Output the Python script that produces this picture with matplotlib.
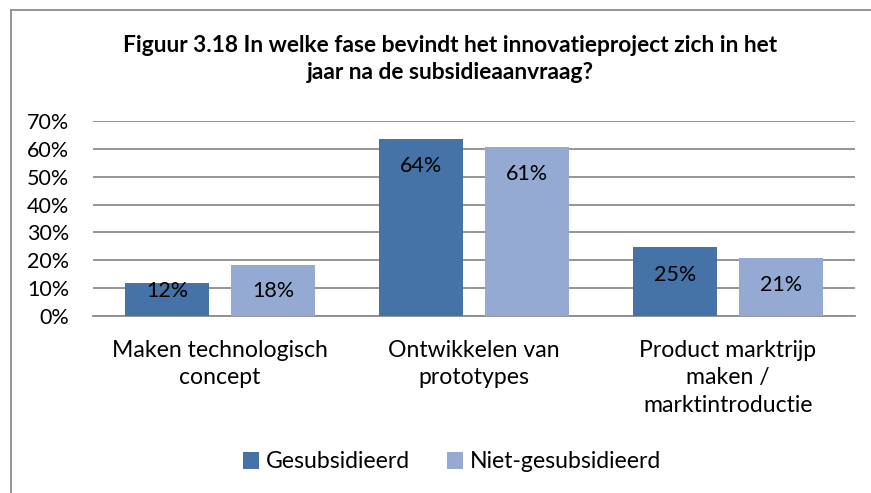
import matplotlib
matplotlib.use("Agg")
import matplotlib.pyplot as plt
from matplotlib.lines import Line2D
import numpy as np

categories = ["Maken technologisch\nconcept", "Ontwikkelen van\nprototypes",
              "Product marktrijp\nmaken /\nmarktintroductie"]
series_names = ["Gesubsidieerd", "Niet-gesubsidieerd"]
gesubsidieerd = [11.7, 63.6, 24.6]
niet_gesubsidieerd = [18.3, 60.6, 21.0]
yticks = [0, 10, 20, 30, 40, 50, 60, 70]
title = "Figuur 3.18 In welke fase bevindt het innovatieproject zich in het\njaar na de subsidieaanvraag?"

colors = ["#4572A7", "#95AAD2"]
FONT = "Lato"
FS = 15.5
FS_WORDS = 16.6

W, H = 871, 493
fig = plt.figure(figsize=(W / 100, H / 100), dpi=100)
ax = fig.add_axes([93 / W, 1 - 316 / H, (855 - 93) / W, (316 - 121) / H])

x = np.arange(len(categories))
width = 0.331
offset = 0.209
series = [gesubsidieerd, niet_gesubsidieerd]
for i, (vals, name, col) in enumerate(zip(series, series_names, colors)):
    pos = x + (offset if i else -offset)
    ax.bar(pos, vals, width, color=col, label=name, zorder=3)
    for px, v in zip(pos, vals):
        ly = max(v - 9.8, 8.9)
        ax.text(px, ly, f"{v:.0f}%", ha="center", va="center",
                fontsize=FS, family=FONT, color="black", zorder=4)

ax.set_xlim(-0.5, len(categories) - 0.5)
ax.set_ylim(0, 70)
ax.set_yticks(yticks)
ax.set_yticklabels([f"{t}%" for t in yticks], family=FONT, fontsize=FS)
ax.set_xticks(x)
ax.set_xticklabels(categories, family=FONT, fontsize=FS_WORDS, linespacing=1.4)
ax.tick_params(axis="both", length=0)
ax.tick_params(axis="y", pad=17)
ax.tick_params(axis="x", pad=17)
ax.grid(axis="y", color="#8C8C8C", linewidth=1.3, zorder=0)
for s in ["top", "right", "left"]:
    ax.spines[s].set_visible(False)
ax.spines["bottom"].set_color("#8C8C8C")
ax.spines["bottom"].set_linewidth(1.3)

fig.text(450 / W, 1 - 59 / H, title, ha="center", va="center",
         fontsize=16.4, fontweight="bold", family=FONT, linespacing=1.3)

fig.legend(loc="center", bbox_to_anchor=(452 / W, 1 - 462 / H), ncol=2,
           frameon=False, prop={"family": FONT, "size": FS_WORDS},
           handlelength=0.7, handleheight=0.7, handletextpad=0.3,
           columnspacing=1.6)

border = "#8C8C8C"
fig.add_artist(Line2D([11 / W, 1], [1 - 10 / H, 1 - 10 / H], color=border,
                      linewidth=1.3, transform=fig.transFigure))
fig.add_artist(Line2D([11 / W, 11 / W], [0, 1 - 10 / H], color=border,
                      linewidth=1.3, transform=fig.transFigure))

fig.savefig("out.png", dpi=100)
